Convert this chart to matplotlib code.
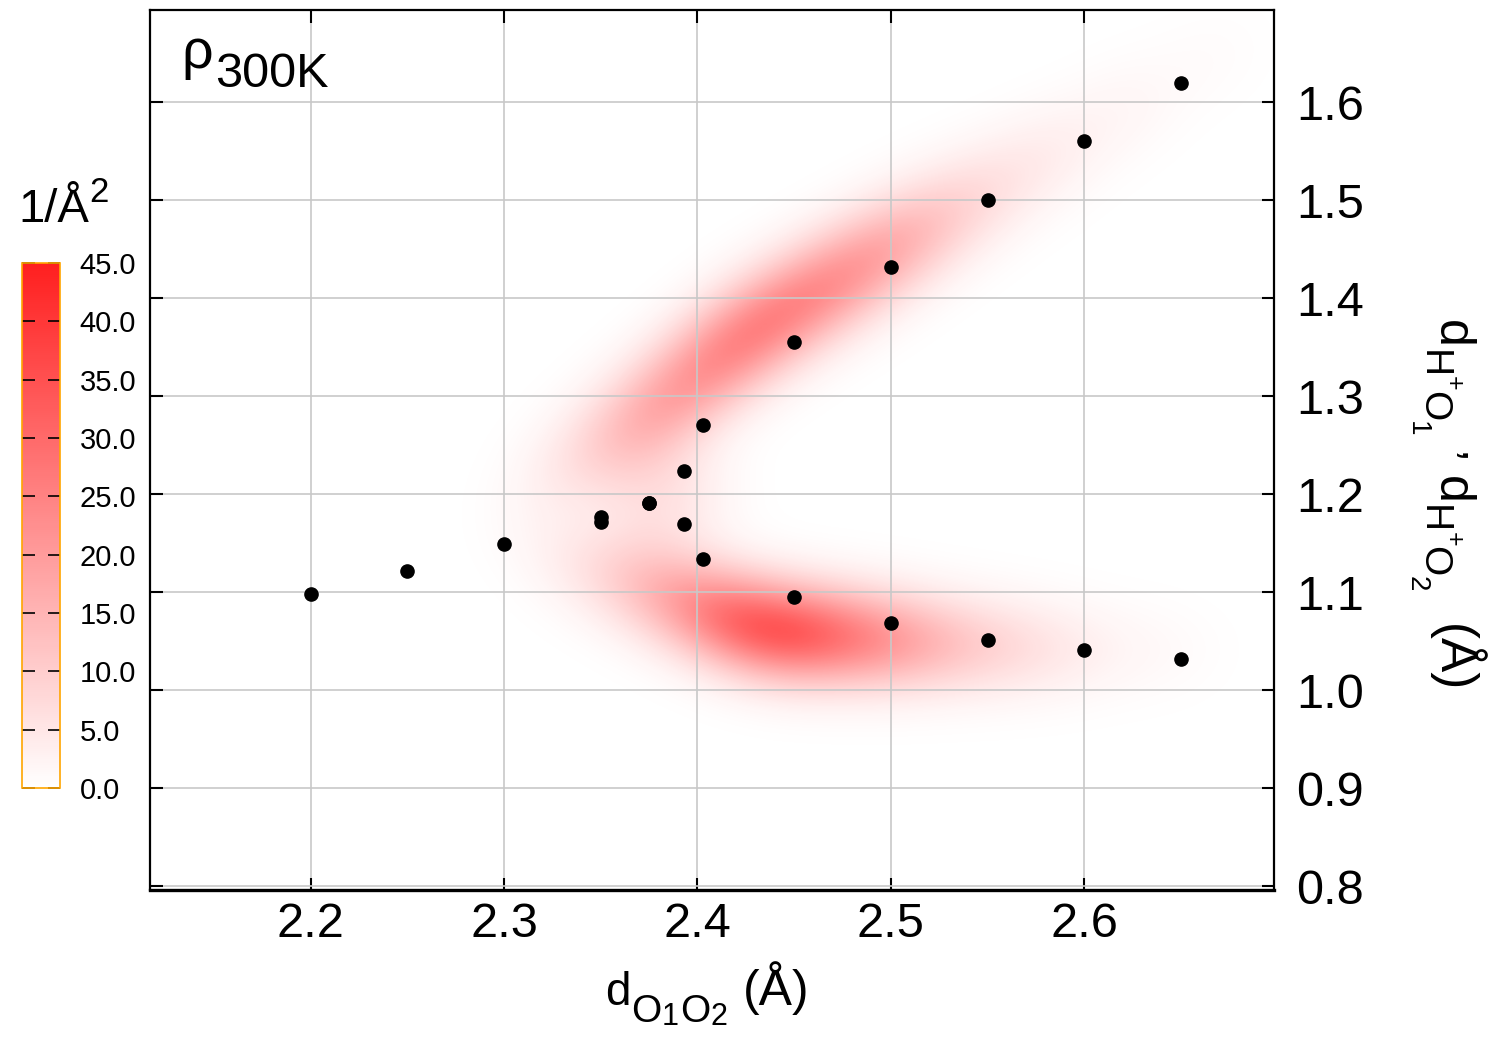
"""
Proton-transfer density map at 300 K: d(O1O2) vs d(H+O1), d(H+O2).

Density band drawn as a smoothed field built from ridge nodes read off the
reference, with the reference geometry points scattered on top.
"""

import numpy as np
import matplotlib
matplotlib.use("Agg")
import matplotlib.pyplot as plt
from matplotlib.colors import LinearSegmentedColormap
from matplotlib.transforms import IdentityTransform

plt.rcParams["font.family"] = ["Liberation Sans", "DejaVu Sans"]

# ---------------------------------------------------------------------------
# Data
# ---------------------------------------------------------------------------

# black points
pts_x = [2.20, 2.25, 2.30, 2.35, 2.35, 2.375, 2.375, 2.393, 2.393, 2.403, 2.403,
         2.45, 2.45, 2.50, 2.50, 2.55, 2.55, 2.60, 2.60, 2.65, 2.65]
pts_y = [1.098, 1.121, 1.149, 1.172, 1.177, 1.191, 1.191, 1.224, 1.169, 1.270, 1.134,
         1.355, 1.095, 1.432, 1.068, 1.500, 1.051, 1.560, 1.041, 1.619, 1.032]

# ridge of the upper density branch: x, y, relative weight
upper_x = [2.330, 2.352, 2.374, 2.396, 2.418, 2.440, 2.465, 2.490, 2.515, 2.545, 2.580, 2.620, 2.665]
upper_y = [1.220, 1.252, 1.282, 1.315, 1.350, 1.380, 1.410, 1.440, 1.470, 1.505, 1.545, 1.592, 1.645]
upper_w = [5, 10, 18, 25, 29, 31, 29, 24, 18, 11, 6.5, 3.5, 1.5]

# ridge of the lower density branch
lower_x = [2.330, 2.352, 2.376, 2.400, 2.420, 2.440, 2.460, 2.485, 2.510, 2.540, 2.570, 2.600, 2.640]
lower_y = [1.140, 1.120, 1.102, 1.085, 1.070, 1.060, 1.056, 1.052, 1.048, 1.045, 1.042, 1.040, 1.040]
lower_w = [3, 7, 14, 22, 29, 33, 31, 26, 20, 13, 8, 4, 2]

# faint fill where the two branches meet
joint_x = [2.370, 2.395, 2.380, 2.380]
joint_y = [1.200, 1.200, 1.245, 1.155]
joint_w = [6, 5, 4, 4]

PEAK_DENSITY = 34.0
cbar_ticks = [0, 5, 10, 15, 20, 25, 30, 35, 40, 45]
x_ticks = [2.2, 2.3, 2.4, 2.5, 2.6]
y_ticks = [0.8, 0.9, 1.0, 1.1, 1.2, 1.3, 1.4, 1.5, 1.6]

XLIM = (2.117, 2.698)
YLIM = (0.796, 1.694)

H = 1050  # figure height in px, for placing pixel-positioned labels


# ---------------------------------------------------------------------------
# Helpers
# ---------------------------------------------------------------------------

def _ridge_field(X, Y, rx, ry, rw, s_along=45.0, s_perp=34.0):
    """Sum of oriented gaussians along a ridge, in (roughly) screen pixels."""
    sx, sy = 1935.0, 980.0
    px, py = np.asarray(rx) * sx, np.asarray(ry) * sy
    GX, GY = X * sx, Y * sy
    field = np.zeros_like(X)
    n = len(rx)
    for i in range(n):
        a, b = max(i - 1, 0), min(i + 1, n - 1)
        d = np.array([px[b] - px[a], py[b] - py[a]])
        d /= np.hypot(*d)
        dx, dy = GX - px[i], GY - py[i]
        along = dx * d[0] + dy * d[1]
        perp = -dx * d[1] + dy * d[0]
        field += rw[i] * np.exp(-0.5 * (along / s_along) ** 2 - 0.5 * (perp / s_perp) ** 2)
    return field


def _pieces(fig, x0, y0, pieces, vertical=False):
    """Draw text pieces (text, size, baseline drop px, gap px) one after another.

    Lets sub/superscripts keep the near full-size look of the original.
    """
    renderer = fig.canvas.get_renderer()
    cur = y0 if vertical else x0
    for s, size, drop, gap in pieces:
        if vertical:
            cur -= gap
            t = fig.text(x0 - drop, cur, s, fontsize=size, rotation=270,
                         rotation_mode="anchor", ha="left", va="baseline",
                         transform=IdentityTransform())
            cur -= t.get_window_extent(renderer).height
        else:
            cur += gap
            t = fig.text(cur, y0 - drop, s, fontsize=size, ha="left",
                         va="baseline", transform=IdentityTransform())
            cur += t.get_window_extent(renderer).width


# ---------------------------------------------------------------------------
# Figure
# ---------------------------------------------------------------------------

fig = plt.figure(figsize=(15, 10.5), dpi=100)
ax = fig.add_axes([0.1, 0.1524, 0.7493, 0.8381])
cax = fig.add_axes([0.0147, 0.2495, 0.0253, 0.5])

gx = np.linspace(XLIM[0], XLIM[1], 240)
gy = np.linspace(YLIM[0], YLIM[1], 200)
X, Y = np.meshgrid(gx, gy)
Z = (_ridge_field(X, Y, upper_x, upper_y, upper_w)
     + _ridge_field(X, Y, lower_x, lower_y, lower_w)
     + _ridge_field(X, Y, joint_x, joint_y, joint_w, s_along=38.0, s_perp=38.0))
Z *= PEAK_DENSITY / Z.max()

cmap = LinearSegmentedColormap.from_list("wr", ["#ffffff", "#ff1f1f"])
im = ax.imshow(Z, origin="lower", extent=(XLIM[0], XLIM[1], YLIM[0], YLIM[1]),
               aspect="auto", cmap=cmap, vmin=0, vmax=45, interpolation="bilinear",
               zorder=0)

ax.plot(pts_x, pts_y, "o", color="black", ms=9.5, zorder=5)

ax.set_xlim(*XLIM)
ax.set_ylim(*YLIM)
ax.set_xticks(x_ticks)
ax.set_yticks(y_ticks)
ax.set_xticklabels([f"{v:.1f}" for v in x_ticks])
ax.set_yticklabels([f"{v:.1f}" for v in y_ticks])
ax.grid(True, color="#c8c8c8", lw=1.2)
ax.tick_params(direction="in", length=9, width=1.5, labelsize=35,
               top=True, right=True, left=True, bottom=True,
               labelleft=False, labelright=True)
ax.tick_params(axis="x", pad=9)
ax.tick_params(axis="y", pad=16)
for side in ("left", "top", "right"):
    ax.spines[side].set_linewidth(1.6)
ax.spines["bottom"].set_linewidth(2.4)

# colorbar
cb = fig.colorbar(im, cax=cax, ticks=cbar_ticks)
cb.outline.set_edgecolor("orange")
cb.outline.set_linewidth(1.2)
cax.set_yticklabels([f"{v:.1f}" for v in cbar_ticks])
cax.tick_params(direction="in", length=9, width=1.2, color="black",
                labelsize=21, left=True, right=True, pad=14)

# labels built from pieces (pixel positions, y measured from bottom)
_pieces(fig, 605, H - 1005, [
    ("d", 33, 0, 0), ("O", 28, 17, 1), ("1", 22, 20, 0),
    ("O", 28, 17, 1), ("2", 22, 20, 0), ("(Å)", 36, 0, 16),
])
_pieces(fig, 1438, H - 320, [
    ("d", 36, 0, 0), ("H", 28, 15, 2), ("+", 18, -8, -2),
    ("O", 28, 15, 0), ("1", 20, 28, 0), (",", 34, -20, 16),
    ("d", 36, 0, 10), ("H", 28, 15, 2), ("+", 18, -8, -2),
    ("O", 28, 15, 0), ("2", 20, 28, 0), ("(Å)", 37, 0, 32),
], vertical=True)
_pieces(fig, 181, H - 68, [("ρ", 40, 0, 0), ("300K", 35, 19, 2)])
_pieces(fig, 18, H - 222, [("1/Å", 34, 0, 0), ("2", 25, -20, 0)])

plt.savefig("out.png", dpi=100)
plt.close()
